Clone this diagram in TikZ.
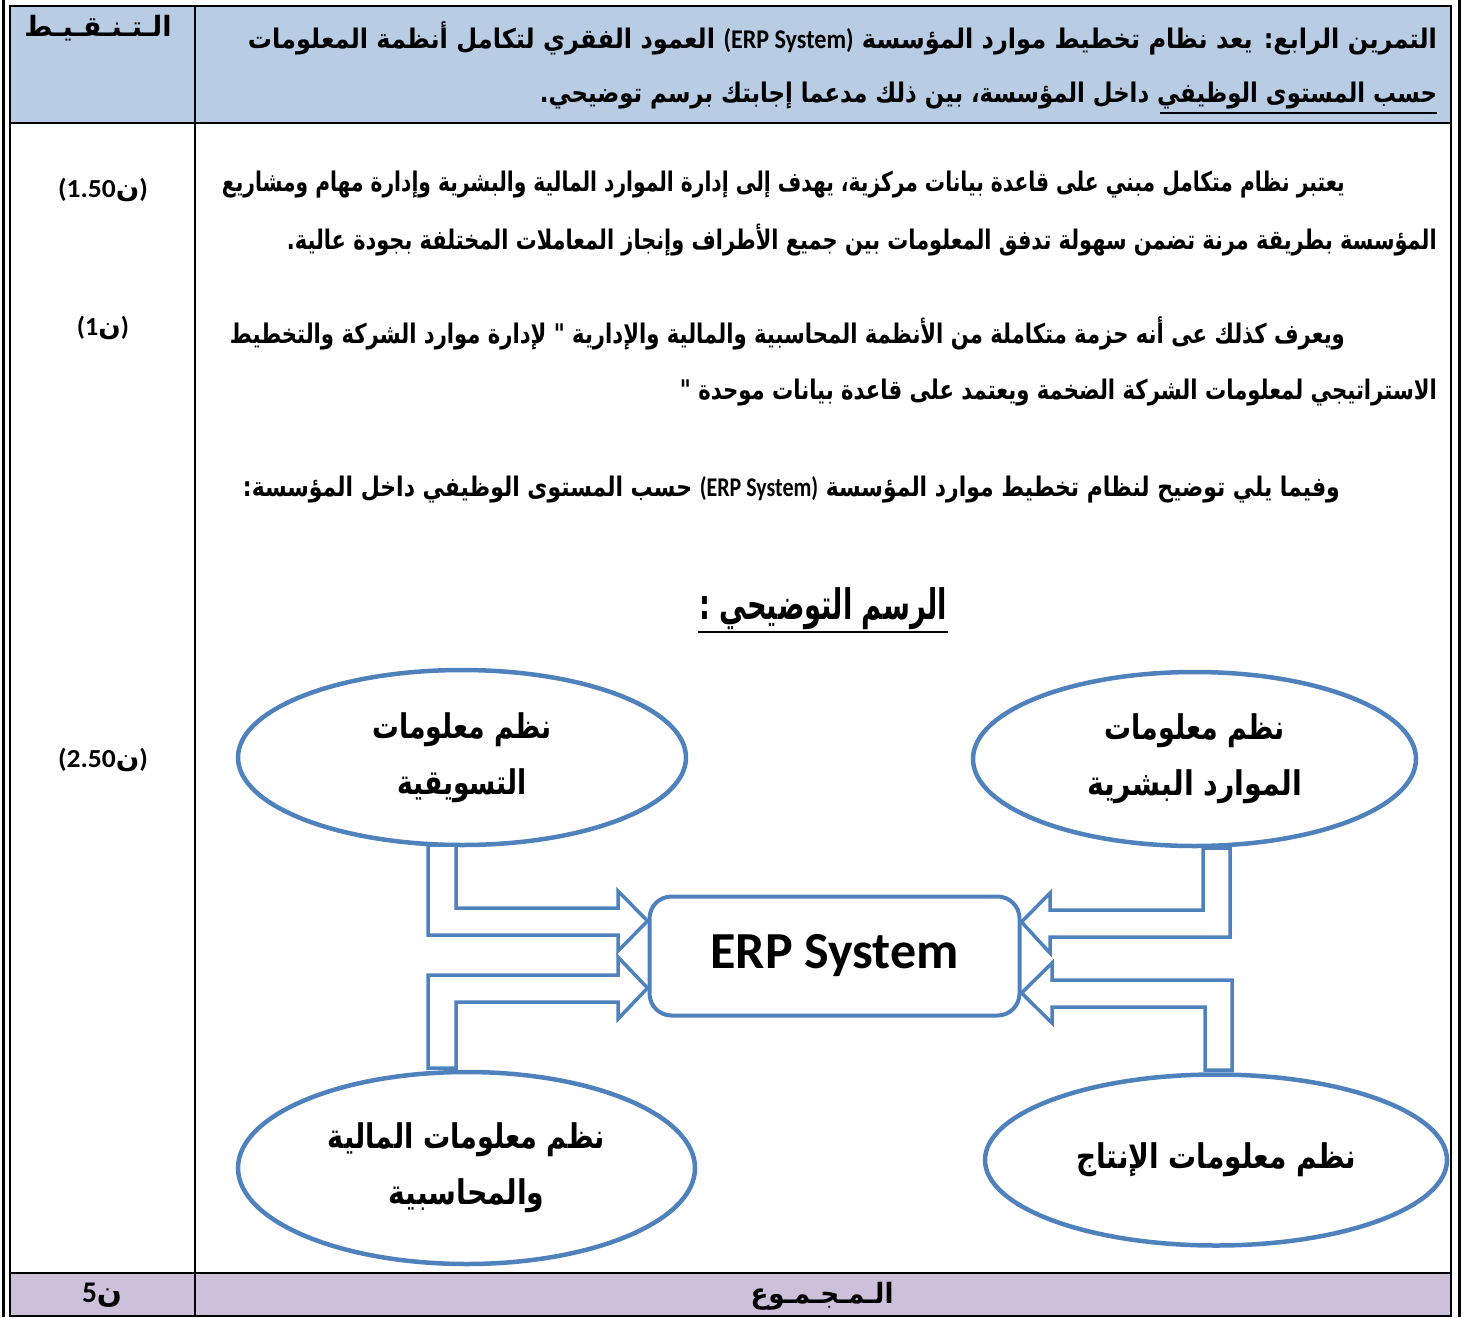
\documentclass[tikz,border=0pt]{standalone}
\usepackage{fontspec}
\usepackage{graphicx}
\usetikzlibrary{shapes.geometric}
\TeXXeTstate=1
\newfontfamily\arabicfont[Script=Arabic]{DejaVu Sans}
\newfontfamily\calibri{Carlito}
\definecolor{hdrblue}{HTML}{B8CCE4}
\definecolor{ftrlilac}{HTML}{CCC0DA}
\definecolor{shapeblue}{HTML}{4F81BD}
\newcommand{\artext}[2]{\resizebox{#1}{\height}{\arabicfont\bfseries #2}}
\newcommand{\erplatin}{\beginL{\calibri\bfseries (ERP System)}\endL}
\newcommand{\scoretxt}[2]{\resizebox{#1}{\height}{\mbox{\calibri\bfseries (#2}\mbox{\arabicfont\bfseries ن}\mbox{\calibri\bfseries )}}}
\tikzset{
  txt/.style={inner sep=0pt, outer sep=0pt},
  body/.style={txt, font=\fontsize{27pt}{31pt}\selectfont},
  rule/.style={line width=2.5pt, black},
  bubble/.style={ellipse, draw=shapeblue, line width=4.5pt, fill=white, inner sep=0pt,
    align=center, font=\fontsize{34pt}{56pt}\selectfont},
  erpbox/.style={draw=shapeblue, line width=4pt, rounded corners=22pt, fill=white,
    minimum width=370pt, minimum height=119pt, font=\calibri\bfseries\fontsize{52pt}{60pt}\selectfont},
  blockarrow/.style={draw=shapeblue, line width=3.5pt, fill=white, line join=miter}
}
\begin{document}
\begin{tikzpicture}[x=1pt,y=-1pt]
\useasboundingbox (0,0) rectangle (1464,1317);
% table
\fill[hdrblue] (10,6) rectangle (1451,123);
\fill[ftrlilac] (10,1273) rectangle (1451,1316);
\draw[rule] (10,6) rectangle (1451,1316);
\draw[rule] (10,123) -- (1451,123);
\draw[rule] (10,1273) -- (1451,1273);
\draw[rule] (195,6) -- (195,1316);
\draw[line width=3pt] (3,0) -- (3,1317);
\draw[line width=3pt] (1459,0) -- (1459,1317);
% header
\node[txt, font=\fontsize{28pt}{32pt}\selectfont] (colhead) at (98,28) {\artext{147pt}{\beginR الـتـنـقـيـط\endR}};
\node[body, anchor=east] (h1) at (1437,38) {\artext{1189pt}{\beginR التمرين الرابع: يعد نظام تخطيط موارد المؤسسة \erplatin{} العمود الفقري لتكامل أنظمة المعلومات\endR}};
\node[body, anchor=east] (h2) at (1437,96) {\artext{897pt}{\beginR حسب المستوى الوظيفي داخل المؤسسة، بين ذلك مدعما إجابتك برسم توضيحي.\endR}};
\draw[line width=1.5pt] (1160,113) -- (1437,113);
% body
\node[body, anchor=east] (a1) at (1345,185) {\artext{1123pt}{\beginR يعتبر نظام متكامل مبني على قاعدة بيانات مركزية، يهدف إلى إدارة الموارد المالية والبشرية وإدارة مهام ومشاريع\endR}};
\node[body, anchor=east] (a2) at (1437,240) {\artext{1150pt}{\beginR المؤسسة بطريقة مرنة تضمن سهولة تدفق المعلومات بين جميع الأطراف وإنجاز المعاملات المختلفة بجودة عالية.\endR}};
\node[body, anchor=east] (b1) at (1345,333) {\artext{1115pt}{\beginR ويعرف كذلك عى أنه حزمة متكاملة من الأنظمة المحاسبية والمالية والإدارية " لإدارة موارد الشركة والتخطيط\endR}};
\node[body, anchor=east] (b2) at (1437,393) {\artext{757pt}{\beginR الاستراتيجي لمعلومات الشركة الضخمة ويعتمد على قاعدة بيانات موحدة "\endR}};
\node[body, anchor=east] (c1) at (1340,490) {\artext{1097pt}{\beginR وفيما يلي توضيح لنظام تخطيط موارد المؤسسة \erplatin{} حسب المستوى الوظيفي داخل المؤسسة:\endR}};
\node[txt, font=\fontsize{42pt}{48pt}\selectfont] (title) at (823,609) {\artext{248pt}{\beginR الرسم التوضيحي :\endR}};
\draw[line width=1.5pt] (698,632) -- (948,632);
% scores
\node[txt, font=\fontsize{26pt}{30pt}\selectfont] (s1) at (103,190) {\scoretxt{90pt}{1.50}};
\node[txt, font=\fontsize{26pt}{30pt}\selectfont] (s2) at (103,328) {\scoretxt{52pt}{1}};
\node[txt, font=\fontsize{26pt}{30pt}\selectfont] (s3) at (103,760) {\scoretxt{90pt}{2.50}};
% footer
\node[txt, font=\fontsize{28pt}{32pt}\selectfont] (total) at (822,1296) {\artext{143pt}{\beginR الـمـجـمـوع\endR}};
\node[txt, font=\fontsize{30pt}{34pt}\selectfont] (totalpts) at (102,1295) {\resizebox{40pt}{\height}{\mbox{\calibri\bfseries 5}\mbox{\arabicfont\bfseries ن}}};
% diagram nodes
\node[bubble, minimum width=448pt, minimum height=175pt] (mkt) at (462,757.5)
  {\artext{179pt}{\beginR نظم معلومات\endR}\\\artext{130pt}{\beginR التسويقية\endR}};
\node[bubble, minimum width=443pt, minimum height=174pt] (hr) at (1194.5,759)
  {\artext{180pt}{\beginR نظم معلومات\endR}\\\artext{215pt}{\beginR الموارد البشرية\endR}};
\node[bubble, minimum width=457pt, minimum height=192pt] (fin) at (466.5,1168)
  {\artext{277pt}{\beginR نظم معلومات المالية\endR}\\\artext{156pt}{\beginR والمحاسبية\endR}};
\node[bubble, minimum width=462pt, minimum height=171pt] (prod) at (1216,1160)
  {\artext{280pt}{\beginR نظم معلومات الإنتاج\endR}};
\node[erpbox] (erp) at (834.5,956) {ERP System};
% block arrows
\draw[blockarrow] (428,845) -- (428,935) -- (618,935) -- (618,951) -- (erp.west |- 0,921) -- (618,891) -- (618,908) -- (456,908) -- (456,845) -- cycle;
\draw[blockarrow] (428,1068) -- (428,975) -- (618,975) -- (618,957) -- (erp.west |- 0,988) -- (618,1019) -- (618,1002) -- (456,1002) -- (456,1068) -- cycle;
\draw[blockarrow] (1230,848) -- (1230,937) -- (1050,937) -- (1050,953) -- (erp.east |- 0,922) -- (1050,893) -- (1050,910) -- (1203,910) -- (1203,848) -- cycle;
\draw[blockarrow] (1232,1070) -- (1232,980) -- (1052,980) -- (1052,963) -- (erp.east |- 0,993) -- (1052,1023) -- (1052,1007) -- (1205,1007) -- (1205,1070) -- cycle;
\end{tikzpicture}
\end{document}
